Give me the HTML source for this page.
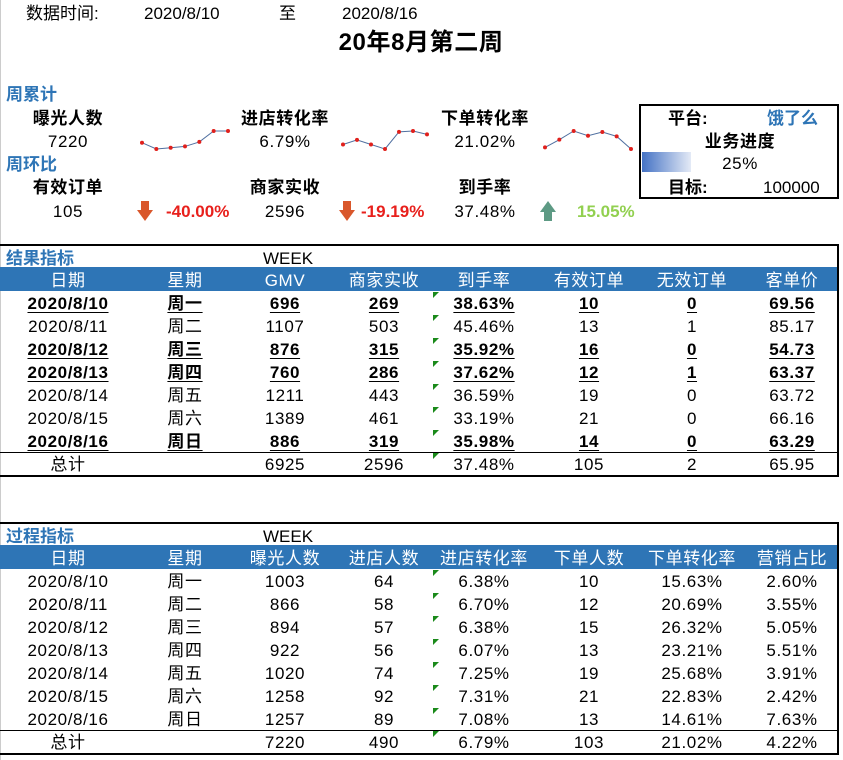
<!DOCTYPE html>
<html><head><meta charset="utf-8">
<style>
*{margin:0;padding:0;box-sizing:border-box}
body{width:843px;height:760px;background:#fff;position:relative;overflow:hidden;font-family:"Liberation Sans","Noto Sans CJK SC",sans-serif;color:#000;font-size:17px}
.a{position:absolute;white-space:nowrap;line-height:20px;margin-top:2px}
.c{transform:translateX(-50%);letter-spacing:0.6px}
.b{font-weight:bold}
.blue{color:#2e75b6;font-weight:bold}
.box{position:absolute;border:2px solid #000}
.hdr{position:absolute;background:#2e75b6;height:24px}
.u{text-decoration:underline;text-underline-offset:3px;font-weight:bold}
.tri{position:absolute;width:0;height:0;border-top:6px solid #1a8a1a;border-right:6px solid transparent}
#spark{margin-top:0}
</style></head><body>
<div class="a" style="left:0;top:0;width:2px;height:760px;border-left:1px solid #ccc;margin-top:0"></div>
<div class="a" style="left:26px;top:2px">数据时间:</div>
<div class="a" style="left:144px;top:2px">2020/8/10</div>
<div class="a" style="left:279px;top:2px">至</div>
<div class="a" style="left:342px;top:2px">2020/8/16</div>
<div class="a b c" style="left:421px;top:27px;font-size:24px;line-height:28px">20年8月第二周</div>

<div class="a blue" style="left:6px;top:83px">周累计</div>
<div class="a b c" style="left:68px;top:107px">曝光人数</div>
<div class="a c" style="left:68px;top:130px">7220</div>
<div class="a b c" style="left:285px;top:107px">进店转化率</div>
<div class="a c" style="left:285px;top:130px">6.79%</div>
<div class="a b c" style="left:485px;top:107px">下单转化率</div>
<div class="a c" style="left:485px;top:130px">21.02%</div>
<div class="a blue" style="left:6px;top:153px">周环比</div>
<div class="a b c" style="left:68px;top:176px">有效订单</div>
<div class="a c" style="left:68px;top:200px">105</div>
<div class="a b c" style="left:285px;top:176px">商家实收</div>
<div class="a c" style="left:285px;top:200px">2596</div>
<div class="a b c" style="left:485px;top:176px">到手率</div>
<div class="a c" style="left:485px;top:200px">37.48%</div>
<div class="a b" style="left:166px;top:200px;color:#e8201c">-40.00%</div>
<div class="a b" style="left:361px;top:200px;color:#e8201c">-19.19%</div>
<div class="a b" style="left:577px;top:200px;color:#92d050">15.05%</div>
<svg class="a" style="left:136px;top:198px" width="18" height="22"><path d="M5 1h8v9h4l-8 11-8-11h4z" fill="#d9572b"/></svg>
<svg class="a" style="left:338px;top:198px" width="18" height="22"><path d="M5 1h8v9h4l-8 11-8-11h4z" fill="#d9572b"/></svg>
<svg class="a" style="left:539px;top:198px" width="18" height="22"><path d="M5 21h8v-9h4l-8-11-8 11h4z" fill="#5d9a84"/></svg>
<svg id="spark" class="a" style="left:0;top:0" width="843" height="240"></svg>

<div class="box" style="left:639px;top:104px;width:200px;height:95px"></div>
<div class="a b" style="left:668px;top:107px">平台:</div>
<div class="a blue" style="left:767px;top:107px">饿了么</div>
<div class="a b c" style="left:740px;top:130px">业务进度</div>
<div class="a" style="left:642px;top:152px;width:49px;height:20px;margin-top:0;background:linear-gradient(90deg,#4472c4,#e4eaf6)"></div>
<div class="a c" style="left:740px;top:152px">25%</div>
<div class="a b" style="left:668px;top:176px">目标:</div>
<div class="a" style="left:763px;top:176px">100000</div>

<div class="box" style="left:0;top:244px;width:839px;height:233px;border-left:none"></div>
<div class="a blue" style="left:6px;top:247px">结果指标</div>
<div class="a" style="left:263px;top:247px">WEEK</div>
<div class="hdr" style="left:0;top:267px;width:837px"></div>
<div class="a" style="left:0;top:452px;width:837px;border-top:1px solid #000;margin-top:0"></div>
<div id="t1"></div>

<div class="box" style="left:0;top:522px;width:839px;height:233px;border-left:none"></div>
<div class="a blue" style="left:6px;top:525px">过程指标</div>
<div class="a" style="left:263px;top:525px">WEEK</div>
<div class="hdr" style="left:0;top:545px;width:837px"></div>
<div class="a" style="left:0;top:730px;width:837px;border-top:1px solid #000;margin-top:0"></div>
<div id="t2"></div>

<script>
const dates=["2020/8/10","2020/8/11","2020/8/12","2020/8/13","2020/8/14","2020/8/15","2020/8/16"];
const days=["周一","周二","周三","周四","周五","周六","周日"];
const h1=["日期","星期","GMV","商家实收","到手率","有效订单","无效订单","客单价"];
const gmv=["696","1107","876","760","1211","1389","886"];
const rev=["269","503","315","286","443","461","319"];
const rate=["38.63%","45.46%","35.92%","37.62%","36.59%","33.19%","35.98%"];
const valid=["10","13","16","12","19","21","14"];
const invalid=["0","1","0","1","0","0","0"];
const aov=["69.56","85.17","54.73","63.37","63.72","66.16","63.29"];
const bold1=[1,0,1,1,0,0,1];
const tot1=["总计","","6925","2596","37.48%","105","2","65.95"];
const h2=["日期","星期","曝光人数","进店人数","进店转化率","下单人数","下单转化率","营销占比"];
const expo=[1003,866,894,922,1020,1258,1257];
const visit=["64","58","57","56","74","92","89"];
const sconv=[6.38,6.70,6.38,6.07,7.25,7.31,7.08];
const orders=["10","12","15","13","19","21","13"];
const oconv=[15.63,20.69,26.32,23.21,25.68,22.83,14.61];
const mkt=["2.60%","3.55%","5.05%","5.51%","3.91%","2.42%","7.63%"];
const tot2=["总计","","7220","490","6.79%","103","21.02%","4.22%"];
const cx=[68,185,285,384,484,589,692,792];
function txt(parent,s,x,y,cls,name,color){
  const d=document.createElement('div');
  d.className='a c '+(cls||'');
  d.style.left=x+'px';d.style.top=y+'px';
  if(color)d.style.color=color;
  d.textContent=s;
  
  
  parent.appendChild(d);
}
function tri(parent,y){
  const t=document.createElement('div');
  t.className='tri';t.style.left='433px';t.style.top=y+'px';
  
  
  parent.appendChild(t);
}
function table(id,top,hdr,cols,bold,tot){
  const p=document.getElementById(id);
  hdr.forEach((h,i)=>txt(p,h,cx[i],top,'','header-'+i,'#fff'));
  for(let r=0;r<7;r++){
    const y=top+23*(r+1);
    cols.forEach((c,i)=>txt(p,c[r],cx[i],y,bold&&bold[r]?'u':'','cell-r'+r+'-c'+i));
    tri(p,y);
  }
  const y=top+23*8;
  tot.forEach((c,i)=>{if(c)txt(p,c,cx[i],y,'','total-c'+i)});
  tri(p,y);
}
table('t1',269,h1,[dates,days,gmv,rev,rate,valid,invalid,aov],bold1,tot1);
table('t2',547,h2,[dates,days,expo.map(String),visit,sconv.map(v=>v.toFixed(2)+'%'),orders,oconv.map(v=>v.toFixed(2)+'%'),mkt],null,tot2);

const svg=document.getElementById('spark');
const NS='http://www.w3.org/2000/svg';
function spark(vals,x0,x1,yTop,yBot,name){
  const mn=Math.min(...vals),mx=Math.max(...vals);
  const sx=i=>x0+(x1-x0)*i/(vals.length-1);
  const sy=v=>yBot-(yBot-yTop)*(v-mn)/(mx-mn);
  const pl=document.createElementNS(NS,'polyline');
  pl.setAttribute('points',vals.map((v,i)=>sx(i)+','+sy(v)).join(' '));
  pl.setAttribute('fill','none');pl.setAttribute('stroke','#4f6fa0');pl.setAttribute('stroke-width','1');
  
  
  svg.appendChild(pl);
  vals.forEach((v,i)=>{
    const c=document.createElementNS(NS,'circle');
    c.setAttribute('cx',sx(i));c.setAttribute('cy',sy(v));c.setAttribute('r','2');c.setAttribute('fill','#e0201c');
    
    
    svg.appendChild(c);
  });
}
spark(expo,142,228,131,149,'exposure-spark');
spark(sconv,343,427,131,149,'store-conv-spark');
spark(oconv,545,631,131,149,'order-conv-spark');
</script>
</body></html>
